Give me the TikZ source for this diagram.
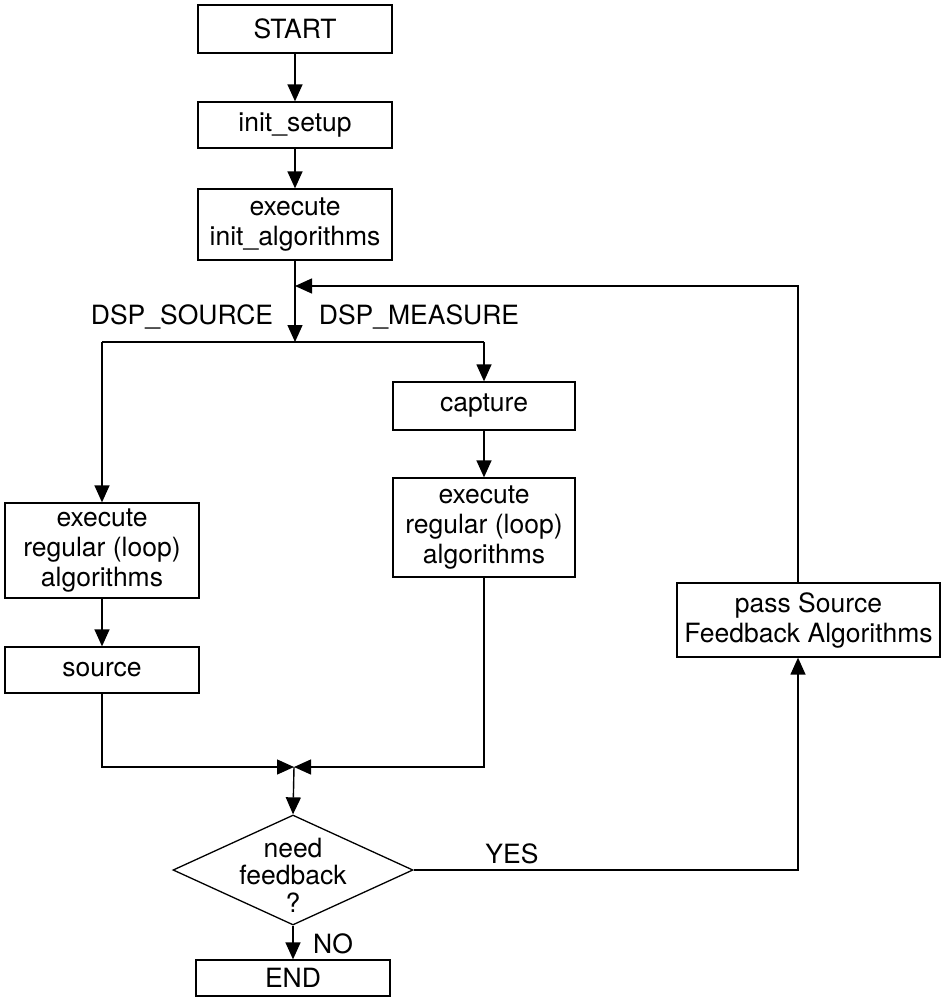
\documentclass[tikz,border=0pt]{standalone}
\usepackage{fontspec}
\setmainfont{TeX Gyre Heros}
\usetikzlibrary{shapes.geometric,arrows.meta}
\tikzset{
  box/.style={draw, line width=1.3pt, align=center, inner sep=0pt, font=\fontsize{26.5}{30}\selectfont},
  lbl/.style={inner sep=0pt, font=\fontsize{26.5}{30}\selectfont},
  conn/.style={line width=1.4pt},
  arr/.style={conn, -{Triangle[length=17pt,width=15pt]}},
}
\begin{document}
\begin{tikzpicture}[x=1pt,y=-1pt]
\useasboundingbox (0,0) rectangle (945,998);
\node[box, minimum width=194, minimum height=48] (start) at (295,29) {START};
\node[box, minimum width=194, minimum height=46] (init) at (295,125) {init\_setup};
\node[box, minimum width=194, minimum height=71] (exinit) at (295,224.5) {execute\\init\_algorithms};
\node[box, minimum width=182, minimum height=48] (capture) at (484,406) {capture};
\node[box, minimum width=182, minimum height=99] (exreg2) at (484,527.5) {execute\\regular (loop)\\algorithms};
\node[box, minimum width=194, minimum height=95] (exreg1) at (102,550.5) {execute\\regular (loop)\\algorithms};
\node[box, minimum width=194, minimum height=46] (source) at (102,670) {source};
\node[box, minimum width=263, minimum height=74] (pass) at (808.5,620) {pass Source\\Feedback Algorithms};
\node[draw, line width=1.3pt, diamond, inner sep=0pt, minimum width=240, minimum height=110] (dia) at (293,870) {};
\node[lbl, align=center, font=\fontsize{26.5}{27.5}\selectfont] (diatext) at (293,875) {need\\feedback\\?};
\node[box, minimum width=194, minimum height=36] (end) at (293,978) {END};

\node[lbl] (dspsrc) at (182,317) {DSP\_SOURCE};
\node[lbl] (dspmeas) at (419,317) {DSP\_MEASURE};
\node[lbl] (yes) at (512,854) {YES};
\node[lbl] (no) at (333,944) {NO};

\coordinate (split) at (295,342);
\coordinate (loopend) at (295,286);
\coordinate (merge) at (294,767);
\coordinate (passbot) at ([xshift=-10.5pt]pass.south);
\coordinate (passtop) at ([xshift=-10.5pt]pass.north);

\draw[arr] (start) -- (init);
\draw[arr] (init) -- (exinit);
\draw[arr] (exinit) -- (split);
\draw[conn] (exreg1.north |- split) -- (capture.north |- split);
\draw[arr] (exreg1.north |- split) -- (exreg1.north);
\draw[arr] (capture.north |- split) -- (capture.north);
\draw[arr] (capture) -- (exreg2);
\draw[arr] (exreg1) -- (source);
\draw[arr] (source.south) |- (merge);
\draw[arr] (exreg2.south) |- (merge);
\draw[arr] (merge) -- (dia.north);
\draw[arr] (dia.south) -- (end.north);
\draw[arr] (dia.east) -| (passbot);
\draw[arr] (passtop) |- (loopend);
\end{tikzpicture}
\end{document}
